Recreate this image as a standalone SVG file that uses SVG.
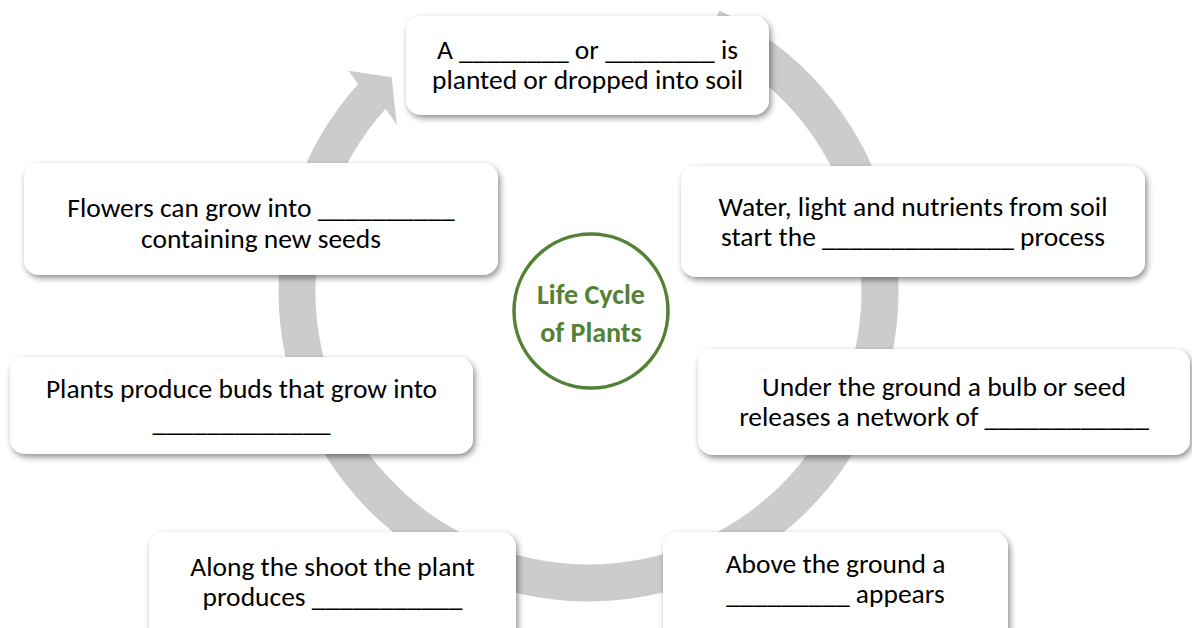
<svg xmlns="http://www.w3.org/2000/svg" width="1192" height="628" viewBox="0 0 1192 628">
<style>
.box{fill:#ffffff;filter:url(#sh);}
.t{font-family:Carlito,Lato,"Liberation Sans",sans-serif;font-size:27.5px;fill:#000;text-anchor:middle;}
.c{font-family:Carlito,Lato,"Liberation Sans",sans-serif;font-size:28px;font-weight:bold;fill:#538135;text-anchor:middle;}
</style>
<defs>
<filter id="sh" x="-10%" y="-20%" width="120%" height="150%">
<feDropShadow dx="2" dy="3" stdDeviation="3" flood-color="#000" flood-opacity="0.45"/>
</filter>
</defs>
<rect width="1192" height="628" fill="#ffffff"/>
<g id="connectors">
<path d="M719.5,10.5 A310,310 0 1 1 358.1,84.1 L348.5,70.8 L391.7,77.3 L396.8,124.9 L385.6,108.8 A273,273 0 1 0 703.9,44.1 Z" fill="#cccccc"/>
</g>
<g id="node-seed">
<rect class="box" x="406" y="16" width="363" height="99" rx="15"/>
<text class="t" x="587.5" y="59">A ________ or ________ is</text>
<text class="t" x="587.5" y="89">planted or dropped into soil</text>
</g>
<g id="node-germination">
<rect class="box" x="681" y="166" width="464" height="111" rx="15"/>
<text class="t" x="913" y="216">Water, light and nutrients from soil</text>
<text class="t" x="913" y="246">start the ______________ process</text>
</g>
<g id="node-roots">
<rect class="box" x="698" y="349" width="492" height="106" rx="15"/>
<text class="t" x="944" y="396">Under the ground a bulb or seed</text>
<text class="t" x="944" y="426">releases a network of ____________</text>
</g>
<g id="node-shoot">
<rect class="box" x="663" y="532" width="345" height="118" rx="15"/>
<text class="t" x="835.5" y="573">Above the ground a</text>
<text class="t" x="835.5" y="603">_________ appears</text>
</g>
<g id="node-leaves">
<rect class="box" x="149" y="532" width="367" height="118" rx="15"/>
<text class="t" x="332.5" y="576">Along the shoot the plant</text>
<text class="t" x="332.5" y="606">produces ___________</text>
</g>
<g id="node-buds">
<rect class="box" x="10" y="357" width="463" height="97" rx="15"/>
<text class="t" x="241.5" y="398">Plants produce buds that grow into</text>
<text class="t" x="241.5" y="431">_____________</text>
</g>
<g id="node-fruit">
<rect class="box" x="24" y="163" width="474" height="112" rx="15"/>
<text class="t" x="261" y="217">Flowers can grow into __________</text>
<text class="t" x="261" y="248">containing new seeds</text>
</g>
<g id="node-center">
<circle cx="591" cy="311" r="77" fill="#ffffff" stroke="#538135" stroke-width="3.5"/>
<text class="c" x="591" y="304">Life Cycle</text>
<text class="c" x="591" y="342">of Plants</text>
</g>
</svg>
